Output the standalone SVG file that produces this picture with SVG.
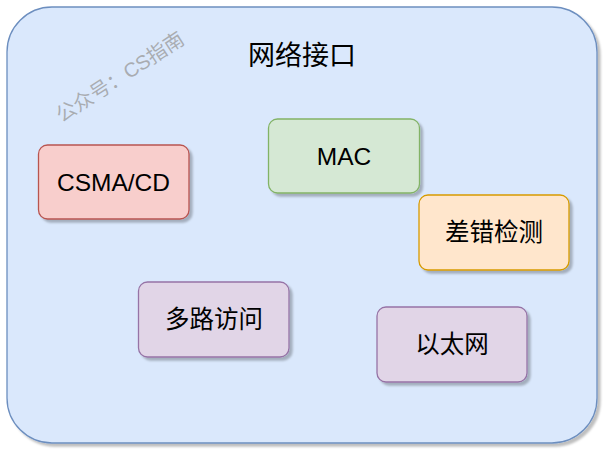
<svg xmlns="http://www.w3.org/2000/svg" width="605" height="450" viewBox="0 0 605 450">
<defs>
<filter id="sh" x="-10%" y="-10%" width="130%" height="130%">
<feDropShadow dx="3" dy="3" stdDeviation="1.2" flood-color="#000" flood-opacity="0.25"/>
</filter>
<style>
.n{stroke-width:1.3;filter:url(#sh)}
.t{font-family:"Liberation Sans","Noto Sans CJK SC",sans-serif;font-size:24.5px;fill:#000;text-anchor:middle;dominant-baseline:central}
.red{fill:#f8cecc;stroke:#b85450}
.green{fill:#d5e8d4;stroke:#82b366}
.orange{fill:#ffe6cc;stroke:#d79b00}
.purple{fill:#e1d5e7;stroke:#9673a6}
</style>
</defs>
<rect width="605" height="450" fill="#ffffff"/>
<g id="container">
<rect x="7" y="7" width="590" height="436" rx="45" ry="45" fill="#dae8fc" stroke="#6c8ebf" stroke-width="1.3" filter="url(#sh)"/>
<text x="302" y="56" class="t" style="font-size:27px">网络接口</text>
</g>
<text x="120" y="77" transform="rotate(-33 120 77)" font-family="Liberation Sans,'Noto Sans CJK SC',sans-serif" font-size="20" fill="#999" fill-opacity="0.75" text-anchor="middle" dominant-baseline="central">公众号：CS指南</text>
<g id="connectors"></g>
<g id="csma">
<rect class="n red" x="38.5" y="145" width="150.5" height="74" rx="9"/>
<text class="t" x="113.5" y="182">CSMA/CD</text>
</g>
<g id="mac">
<rect class="n green" x="268.5" y="119" width="151" height="74" rx="9"/>
<text class="t" x="344" y="156">MAC</text>
</g>
<g id="error">
<rect class="n orange" x="419" y="195" width="150" height="75" rx="9"/>
<text class="t" x="494" y="232">差错检测</text>
</g>
<g id="multi">
<rect class="n purple" x="138.5" y="282" width="150.5" height="75" rx="9"/>
<text class="t" x="214" y="319.5">多路访问</text>
</g>
<g id="ethernet">
<rect class="n purple" x="377" y="307" width="150" height="75" rx="9"/>
<text class="t" x="452" y="344.5">以太网</text>
</g>
</svg>
